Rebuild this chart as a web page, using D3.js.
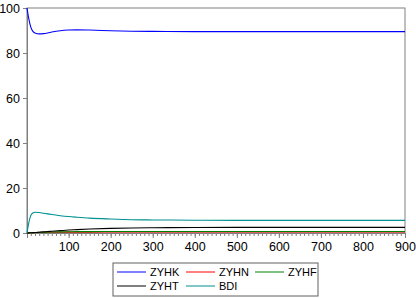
<!DOCTYPE html>
<html lang="en">
<head>
<meta charset="utf-8"/>
<script src="https://d3js.org/d3.v7.min.js"></script>
<style>
  body { margin: 0; background: #fff; }
  text { font-family: "Liberation Sans", Arial, sans-serif; }
</style>
</head>
<body>
<div id="chart"></div>
<script>
// horizon (periods) and responses
var periods = [1, 5, 10, 15, 20, 30, 40, 50, 60, 80, 100, 120, 150, 200, 250, 300, 400, 500, 600, 700, 800, 900];
var zyhk = [100, 95.5, 91.5, 89.6, 88.9, 88.5, 88.6, 88.9, 89.3, 89.9, 90.2, 90.3, 90.2, 89.9, 89.7, 89.6, 89.5, 89.5, 89.5, 89.5, 89.5, 89.5];
var zyhn = [0, 0.05, 0.1, 0.15, 0.2, 0.25, 0.3, 0.3, 0.35, 0.35, 0.4, 0.4, 0.4, 0.45, 0.45, 0.5, 0.5, 0.5, 0.5, 0.5, 0.5, 0.5];
var zyhf = [0, 0.05, 0.1, 0.15, 0.2, 0.3, 0.35, 0.4, 0.45, 0.5, 0.55, 0.6, 0.6, 0.65, 0.65, 0.7, 0.7, 0.7, 0.7, 0.7, 0.7, 0.7];
var zyht = [0, 0.05, 0.1, 0.15, 0.2, 0.35, 0.5, 0.65, 0.8, 1.05, 1.3, 1.5, 1.75, 2.05, 2.25, 2.35, 2.45, 2.5, 2.5, 2.5, 2.5, 2.5];
var bdi = [0, 4.3, 7.8, 8.9, 9.2, 9.1, 8.8, 8.5, 8.2, 7.7, 7.3, 7.0, 6.6, 6.2, 5.9, 5.8, 5.7, 5.6, 5.6, 5.6, 5.6, 5.6];
var yTicks = [0, 20, 40, 60, 80, 100];
var xTicks = [100, 200, 300, 400, 500, 600, 700, 800, 900];

var series = [
  { name: "ZYHK", values: zyhk, color: "#0000ff" },
  { name: "ZYHN", values: zyhn, color: "#ff0000" },
  { name: "ZYHF", values: zyhf, color: "#008000" },
  { name: "ZYHT", values: zyht, color: "#000000" },
  { name: "BDI", values: bdi, color: "#009090" }
];

var margin = { top: 8, right: 11, bottom: 65, left: 27 };
var W = 416, H = 298;
var width = W - margin.left - margin.right;
var height = H - margin.top - margin.bottom;

var svg = d3.select("#chart").append("svg")
    .attr("width", W)
    .attr("height", H);

var g = svg.append("g")
    .attr("transform", "translate(" + margin.left + "," + margin.top + ")");

var x = d3.scaleLinear().domain([1, 900]).range([0, width]);
var y = d3.scaleLinear().domain([0, 100]).range([height, 0]);

// frame
g.append("rect")
    .attr("width", width).attr("height", height)
    .attr("fill", "none").attr("stroke", "#808080").attr("stroke-width", 1);

// minor x ticks every 10
var minor = d3.range(10, 901, 10);
g.append("g")
    .attr("transform", "translate(0," + height + ")")
    .call(d3.axisBottom(x).tickValues(minor).tickSize(3).tickFormat(""))
    .call(function (a) { a.select(".domain").remove(); a.selectAll("line").attr("stroke", "#808080"); });

var xAxis = g.append("g")
    .attr("transform", "translate(0," + height + ")")
    .call(d3.axisBottom(x).tickValues(xTicks).tickSize(5).tickPadding(4));
xAxis.select(".domain").attr("stroke", "#808080");
xAxis.selectAll("line").attr("stroke", "#808080");
xAxis.selectAll("text").attr("font-size", 12.5).attr("fill", "#000")
    .style("font-family", "'Liberation Sans', Arial, sans-serif");

var yAxis = g.append("g")
    .call(d3.axisLeft(y).tickValues(yTicks).tickSize(4).tickPadding(3));
yAxis.select(".domain").attr("stroke", "#808080");
yAxis.selectAll("line").attr("stroke", "#808080");
yAxis.selectAll("text").attr("font-size", 12.5).attr("fill", "#000")
    .style("font-family", "'Liberation Sans', Arial, sans-serif");

var line = d3.line()
    .x(function (d, i) { return x(periods[i]); })
    .y(function (d) { return y(d); })
    .curve(d3.curveMonotoneX);

g.selectAll(".series")
    .data(series)
    .enter().append("path")
    .attr("d", function (s) { return line(s.values); })
    .attr("fill", "none")
    .attr("stroke", function (s) { return s.color; })
    .attr("stroke-width", 1.1);

// legend
var lg = svg.append("g").attr("transform", "translate(113,263)");
lg.append("rect")
    .attr("width", 205).attr("height", 33)
    .attr("fill", "#fff").attr("stroke", "#606060");

var cols = [4, 73, 142];
series.forEach(function (s, i) {
  var cx = cols[i % 3], cy = 9 + Math.floor(i / 3) * 14;
  lg.append("line")
    .attr("x1", cx).attr("x2", cx + 29)
    .attr("y1", cy).attr("y2", cy)
    .attr("stroke", s.color).attr("stroke-width", 1);
  lg.append("text")
    .attr("x", cx + 33).attr("y", cy + 4)
    .attr("font-size", 11)
    .text(s.name);
});
</script>
</body>
</html>
